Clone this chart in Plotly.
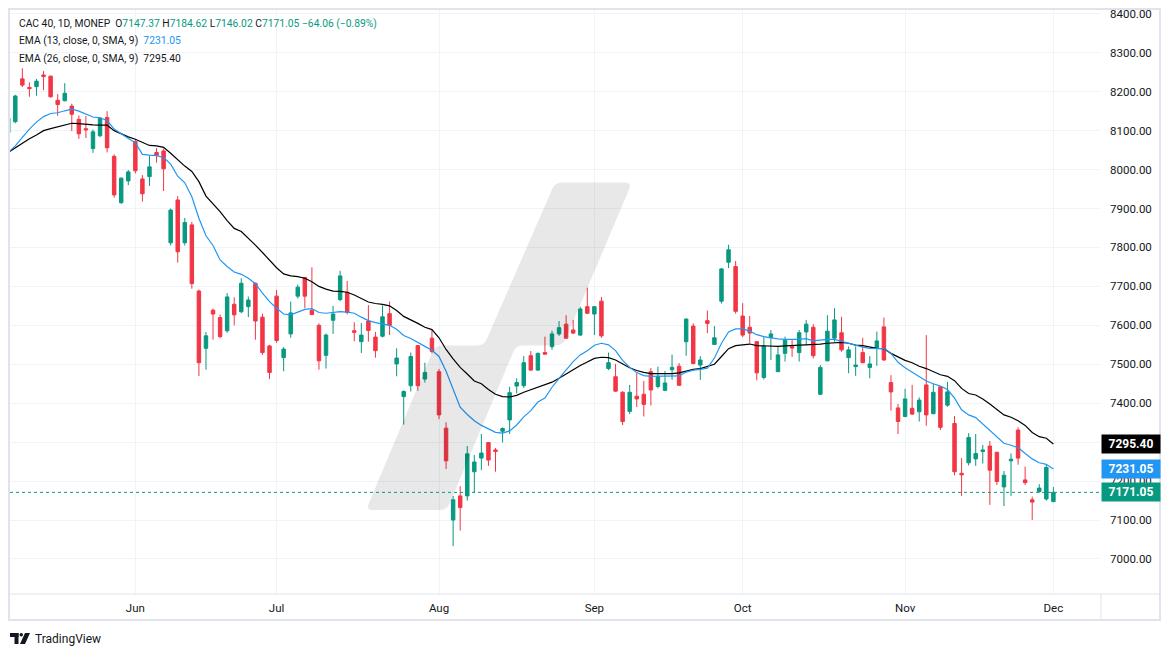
import plotly.graph_objects as go
import pandas as pd

# ---------------- data ----------------
dates = [d.strftime("%Y-%m-%d") for d in pd.bdate_range("2024-05-08", "2024-12-02")]

opens = [8095, 8123, 8233, 8211, 8213, 8243, 8240, 8178, 8177, 8163,
         8129, 8105, 8054, 8087, 8134, 8034, 7915, 7971, 8072, 7976,
         7982, 8044, 8048, 7812, 7922, 7812, 7858, 7688, 7541, 7639,
         7620, 7586, 7654, 7635, 7648, 7708, 7621, 7547, 7675, 7517,
         7578, 7675, 7723, 7639, 7600, 7523, 7613, 7666, 7685, 7586,
         7558, 7611, 7570, 7572, 7630, 7501, 7417, 7445, 7548, 7462,
         7567, 7481, 7336, 7100, 7162, 7162, 7224, 7259, 7299, 7280,
         7328, 7357, 7444, 7445, 7522, 7485, 7530, 7545, 7578, 7603,
         7588, 7575, 7648, 7629, 7662, 7489, 7468, 7428, 7379, 7418,
         7423, 7481, 7443, 7433, 7486, 7495, 7558, 7598, 7498, 7612,
         7551, 7662, 7762, 7751, 7624, 7595, 7558, 7466, 7569, 7481,
         7528, 7545, 7530, 7583, 7595, 7423, 7509, 7567, 7581, 7517,
         7494, 7530, 7492, 7541, 7596, 7453, 7388, 7366, 7387, 7378,
         7447, 7373, 7442, 7395, 7348, 7220, 7247, 7257, 7276, 7290,
         7274, 7185, 7252, 7331, 7203, 7152, 7173, 7154, 7147.37]
highs = [8135, 8192, 8260, 8224, 8233, 8253, 8241, 8194, 8222, 8169,
         8139, 8138, 8103, 8135, 8150, 8039, 7980, 7999, 8078, 7986,
         8036, 8055, 8054, 7900, 7932, 7876, 7866, 7692, 7583, 7643,
         7628, 7683, 7672, 7721, 7674, 7710, 7630, 7550, 7691, 7544,
         7661, 7705, 7723, 7749, 7605, 7579, 7650, 7740, 7714, 7608,
         7606, 7652, 7583, 7651, 7661, 7541, 7433, 7530, 7549, 7504,
         7588, 7488, 7351, 7162, 7187, 7290, 7267, 7321, 7300, 7285,
         7338, 7442, 7464, 7521, 7534, 7530, 7571, 7586, 7611, 7626,
         7614, 7648, 7697, 7649, 7673, 7530, 7501, 7431, 7447, 7477,
         7457, 7490, 7494, 7483, 7525, 7503, 7618, 7605, 7521, 7638,
         7598, 7747, 7807, 7765, 7657, 7624, 7560, 7570, 7588, 7547,
         7571, 7562, 7588, 7614, 7603, 7498, 7626, 7644, 7622, 7546,
         7546, 7568, 7521, 7584, 7620, 7472, 7398, 7437, 7447, 7415,
         7575, 7450, 7443, 7455, 7367, 7259, 7323, 7321, 7293, 7303,
         7275, 7226, 7271, 7338, 7237, 7160, 7192, 7243, 7184.62]
lows = [8090, 8119, 8212, 8187, 8190, 8204, 8185, 8138, 8175, 8099,
        8079, 8081, 8043, 8083, 8044, 7928, 7912, 7960, 7990, 7918,
        7958, 8018, 7945, 7805, 7761, 7805, 7694, 7470, 7486, 7563,
        7567, 7581, 7600, 7631, 7621, 7563, 7524, 7462, 7555, 7482,
        7568, 7669, 7644, 7626, 7486, 7489, 7578, 7662, 7628, 7559,
        7529, 7558, 7517, 7569, 7575, 7469, 7345, 7430, 7432, 7453,
        7528, 7359, 7231, 7033, 7073, 7150, 7171, 7228, 7239, 7224,
        7299, 7321, 7425, 7439, 7483, 7483, 7525, 7537, 7573, 7565,
        7578, 7573, 7629, 7575, 7568, 7485, 7429, 7344, 7372, 7390,
        7366, 7394, 7438, 7431, 7460, 7444, 7522, 7500, 7460, 7580,
        7550, 7656, 7747, 7630, 7570, 7554, 7459, 7461, 7511, 7480,
        7507, 7519, 7507, 7549, 7515, 7421, 7507, 7558, 7532, 7477,
        7470, 7503, 7464, 7496, 7509, 7381, 7321, 7364, 7370, 7353,
        7342, 7372, 7331, 7391, 7215, 7162, 7240, 7239, 7245, 7139,
        7190, 7136, 7162, 7242, 7190, 7100, 7170, 7150, 7146.02]
closes = [8132, 8189, 8217, 8208, 8227, 8239, 8187, 8167, 8196, 8142,
          8092, 8102, 8097, 8132, 8056, 7935, 7978, 7994, 7997, 7938,
          8007, 8037, 8002, 7896, 7789, 7864, 7707, 7504, 7573, 7629,
          7571, 7673, 7627, 7708, 7665, 7611, 7530, 7479, 7561, 7539,
          7632, 7698, 7675, 7628, 7509, 7575, 7629, 7727, 7633, 7582,
          7575, 7587, 7535, 7622, 7600, 7516, 7430, 7520, 7445, 7479,
          7533, 7370, 7252, 7152, 7132, 7270, 7249, 7272, 7254, 7276,
          7335, 7427, 7453, 7504, 7485, 7528, 7526, 7578, 7594, 7567,
          7580, 7642, 7631, 7648, 7573, 7504, 7431, 7353, 7428, 7411,
          7397, 7434, 7469, 7452, 7492, 7446, 7616, 7502, 7511, 7605,
          7568, 7745, 7794, 7636, 7575, 7580, 7478, 7547, 7578, 7524,
          7562, 7542, 7581, 7603, 7522, 7492, 7585, 7614, 7537, 7537,
          7498, 7504, 7501, 7560, 7511, 7429, 7353, 7411, 7372, 7408,
          7370, 7428, 7338, 7429, 7224, 7216, 7312, 7271, 7280, 7228,
          7199, 7215, 7256, 7259, 7196, 7146, 7182, 7235.11, 7171.05]

ema13 = [8044, 8061, 8083, 8104, 8122, 8136, 8144, 8146, 8151, 8155,
         8150, 8143, 8135, 8133, 8126, 8104, 8091, 8080, 8069, 8039,
         8037, 8036, 8031, 8014, 7983, 7966, 7930, 7875, 7830, 7805,
         7768, 7751, 7737, 7731, 7721, 7707, 7683, 7661, 7644, 7629,
         7627, 7635, 7641, 7643, 7633, 7631, 7633, 7635, 7634, 7631,
         7621, 7612, 7607, 7603, 7600, 7590, 7574, 7566, 7557, 7546,
         7536, 7520, 7482, 7437, 7390, 7371, 7355, 7343, 7333, 7325,
         7323, 7329, 7344, 7365, 7381, 7403, 7413, 7441, 7464, 7485,
         7507, 7524, 7535, 7549, 7554, 7550, 7535, 7510, 7492, 7479,
         7471, 7469, 7469, 7469, 7469, 7470, 7480, 7485, 7487, 7490,
         7516, 7554, 7583, 7591, 7591, 7585, 7576, 7571, 7568, 7565,
         7564, 7564, 7564, 7566, 7560, 7562, 7564, 7564, 7559, 7554,
         7548, 7544, 7541, 7541, 7540, 7528, 7505, 7491, 7479, 7468,
         7457, 7450, 7444, 7435, 7413, 7383, 7370, 7363, 7346, 7331,
         7314, 7297, 7292, 7286, 7271, 7257, 7247, 7243, 7231.05]
ema26 = [8044, 8056, 8067, 8079, 8089, 8100, 8105, 8110, 8114, 8119,
         8118, 8116, 8115, 8114, 8114, 8100, 8091, 8084, 8078, 8069,
         8062, 8061, 8057, 8042, 8025, 8009, 7995, 7969, 7932, 7913,
         7892, 7869, 7849, 7841, 7824, 7806, 7787, 7767, 7748, 7732,
         7727, 7725, 7721, 7712, 7700, 7693, 7688, 7687, 7685, 7678,
         7669, 7660, 7656, 7654, 7650, 7638, 7623, 7615, 7605, 7595,
         7589, 7568, 7538, 7514, 7492, 7475, 7457, 7450, 7435, 7423,
         7417, 7416, 7420, 7428, 7434, 7440, 7446, 7454, 7464, 7475,
         7487, 7497, 7506, 7515, 7518, 7517, 7511, 7500, 7491, 7484,
         7479, 7476, 7476, 7476, 7476, 7478, 7483, 7487, 7489, 7494,
         7500, 7520, 7540, 7548, 7550, 7552, 7548, 7547, 7546, 7546,
         7547, 7548, 7548, 7549, 7551, 7552, 7554, 7555, 7556, 7554,
         7549, 7548, 7544, 7541, 7540, 7528, 7519, 7510, 7504, 7495,
         7489, 7482, 7473, 7469, 7458, 7438, 7425, 7421, 7411, 7398,
         7385, 7370, 7364, 7355, 7343, 7325, 7314, 7310, 7295.40]

month_ticks = ["2024-06-03", "2024-07-01", "2024-08-01", "2024-09-02",
               "2024-10-01", "2024-11-01", "2024-12-02"]
month_labels = ["Jun", "Jul", "Aug", "Sep", "Oct", "Nov", "Dec"]

last_open, last_high, last_low, last_close = 7147.37, 7184.62, 7146.02, 7171.05
change_txt = "\u221264.06 (\u22120.89%)"

# ---------------- style ----------------
GREEN = "#089981"
RED = "#f23645"
BLUE = "#2196f3"
TXT = "#131722"
GRID = "#f0f3fa"
FRAME = "#e0e3eb"
FONT = "Roboto, Liberation Sans, sans-serif"

W, H = 1171, 657
L, R, T, B = 10, 1100, 8, 594


def px(x):
    return (x - L) / (R - L)


def py(y):
    return (B - y) / (B - T)


fig = go.Figure()
fig.add_trace(go.Candlestick(
    x=dates, open=opens, high=highs, low=lows, close=closes,
    increasing=dict(line=dict(color=GREEN, width=1), fillcolor=GREEN),
    decreasing=dict(line=dict(color=RED, width=1), fillcolor=RED),
    whiskerwidth=0, showlegend=False, hoverinfo="skip"))
fig.add_trace(go.Scatter(x=dates, y=ema26, mode="lines",
                         line=dict(color="#000000", width=1.2),
                         showlegend=False, hoverinfo="skip"))
fig.add_trace(go.Scatter(x=dates, y=ema13, mode="lines",
                         line=dict(color=BLUE, width=1.2),
                         showlegend=False, hoverinfo="skip"))

# ---------------- decorations ----------------
shapes = []


def rounded_path(points, r):
    import math
    n = len(points)
    segs = []
    for i in range(n):
        p0 = points[i - 1]
        p1 = points[i]
        p2 = points[(i + 1) % n]
        d1 = math.hypot(p0[0] - p1[0], p0[1] - p1[1])
        d2 = math.hypot(p2[0] - p1[0], p2[1] - p1[1])
        a = (p1[0] + (p0[0] - p1[0]) * r / d1, p1[1] + (p0[1] - p1[1]) * r / d1)
        b = (p1[0] + (p2[0] - p1[0]) * r / d2, p1[1] + (p2[1] - p1[1]) * r / d2)
        segs.append((a, p1, b))
    path = ""
    for i, (a, c, b) in enumerate(segs):
        cmd = "M" if i == 0 else "L"
        path += f"{cmd}{px(a[0]):.5f},{py(a[1]):.5f} Q{px(c[0]):.5f},{py(c[1]):.5f} {px(b[0]):.5f},{py(b[1]):.5f} "
    return path + "Z"


# watermark
wm = [(555, 182.5), (632, 182.5), (563, 345.5), (516, 345.5),
      (447, 510), (366, 510), (435, 345.5), (484, 345.5)]
shapes.append(dict(type="path", xref="paper", yref="paper", path=rounded_path(wm, 7),
                   fillcolor="rgba(0,0,0,0.09)", line=dict(width=0), layer="above"))

# last price dotted line
shapes.append(dict(type="line", xref="paper", yref="y", x0=0, x1=1,
                   y0=last_close, y1=last_close,
                   line=dict(color=GREEN, width=1, dash="dot"), layer="above"))

# frame and separators
shapes.append(dict(type="rect", xref="paper", yref="paper",
                   x0=px(9), x1=px(1160), y0=py(620), y1=py(9),
                   line=dict(color=FRAME, width=2), layer="above"))
shapes.append(dict(type="line", xref="paper", yref="paper",
                   x0=px(9), x1=px(1160), y0=py(594), y1=py(594),
                   line=dict(color=FRAME, width=1), layer="above"))
shapes.append(dict(type="line", xref="paper", yref="paper",
                   x0=px(1101), x1=px(1101), y0=py(620), y1=py(594),
                   line=dict(color=FRAME, width=1), layer="above"))

# TradingView logo
shapes.append(dict(type="rect", xref="paper", yref="paper",
                   x0=px(10), x1=px(18.5), y0=py(637), y1=py(633),
                   fillcolor=TXT, line=dict(width=0)))
shapes.append(dict(type="rect", xref="paper", yref="paper",
                   x0=px(14.5), x1=px(18.5), y0=py(644), y1=py(633),
                   fillcolor=TXT, line=dict(width=0)))
shapes.append(dict(type="circle", xref="paper", yref="paper",
                   x0=px(19.5), x1=px(23), y0=py(636.5), y1=py(633),
                   fillcolor=TXT, line=dict(width=0)))
shapes.append(dict(type="path", xref="paper", yref="paper",
                   path=f"M{px(25):.5f},{py(633):.5f} L{px(30):.5f},{py(633):.5f} "
                        f"L{px(25):.5f},{py(644):.5f} L{px(20):.5f},{py(644):.5f} Z",
                   fillcolor=TXT, line=dict(width=0)))

annotations = []
sp = "\u00a0"


def g(t):
    return f"<span style='color:{GREEN}'>{t}</span>"


line1 = (f"CAC 40, 1D, MONEP{sp}{sp}O{g(f'{last_open:.2f}')}{sp}H{g(f'{last_high:.2f}')}"
         f"{sp}L{g(f'{last_low:.2f}')}{sp}C{g(f'{last_close:.2f}')}{sp}{g(change_txt)}")
line2 = f"EMA (13, close, 0, SMA, 9){sp}{sp}<span style='color:{BLUE}'>{ema13[-1]:.2f}</span>"
line3 = f"EMA (26, close, 0, SMA, 9){sp}{sp}{ema26[-1]:.2f}"
for txt, yy in [(line1, 24), (line2, 41), (line3, 58)]:
    annotations.append(dict(xref="paper", yref="paper", x=px(17), y=py(yy),
                            xanchor="left", yanchor="middle", showarrow=False,
                            text=txt, font=dict(family=FONT, size=10.3, color=TXT)))

# price labels on the scale
for val, col in [(ema26[-1], "#000000"), (ema13[-1], BLUE), (last_close, GREEN)]:
    annotations.append(dict(xref="paper", yref="y", x=px(1101), y=val,
                            xanchor="left", yanchor="middle", showarrow=False,
                            text=f"<b>{val:.2f}</b>", bgcolor=col, width=54, height=14,
                            borderpad=2, align="center",
                            font=dict(family=FONT, size=12, color="white")))

annotations.append(dict(xref="paper", yref="paper", x=px(33), y=py(639),
                        xanchor="left", yanchor="middle", showarrow=False,
                        text="TradingView", font=dict(family=FONT, size=12, color=TXT)))

fig.update_layout(
    width=W, height=H,
    margin=dict(l=L, r=W - R, t=T, b=H - B, autoexpand=False),
    paper_bgcolor="white", plot_bgcolor="white",
    showlegend=False, hovermode=False,
    shapes=shapes, annotations=annotations,
    xaxis=dict(type="category", range=[0.25, 154.6], tickmode="array",
               tickvals=month_ticks, ticktext=month_labels,
               showgrid=True, gridcolor=GRID, gridwidth=1,
               zeroline=False, showline=False, ticks="",
               ticklabelstandoff=5,
               tickfont=dict(family=FONT, size=11.5, color=TXT),
               rangeslider=dict(visible=False), fixedrange=True),
    yaxis=dict(side="right", range=[6910, 8415], dtick=100, tick0=0,
               tickformat=".2f", showgrid=True, gridcolor=GRID, gridwidth=1,
               zeroline=False, showline=False, ticks="",
               ticklabelstandoff=9,
               tickfont=dict(family=FONT, size=11.5, color=TXT), fixedrange=True),
)

fig.write_html("out.html", config={"displayModeBar": False},
               post_script="document.body.style.margin='0px';")
